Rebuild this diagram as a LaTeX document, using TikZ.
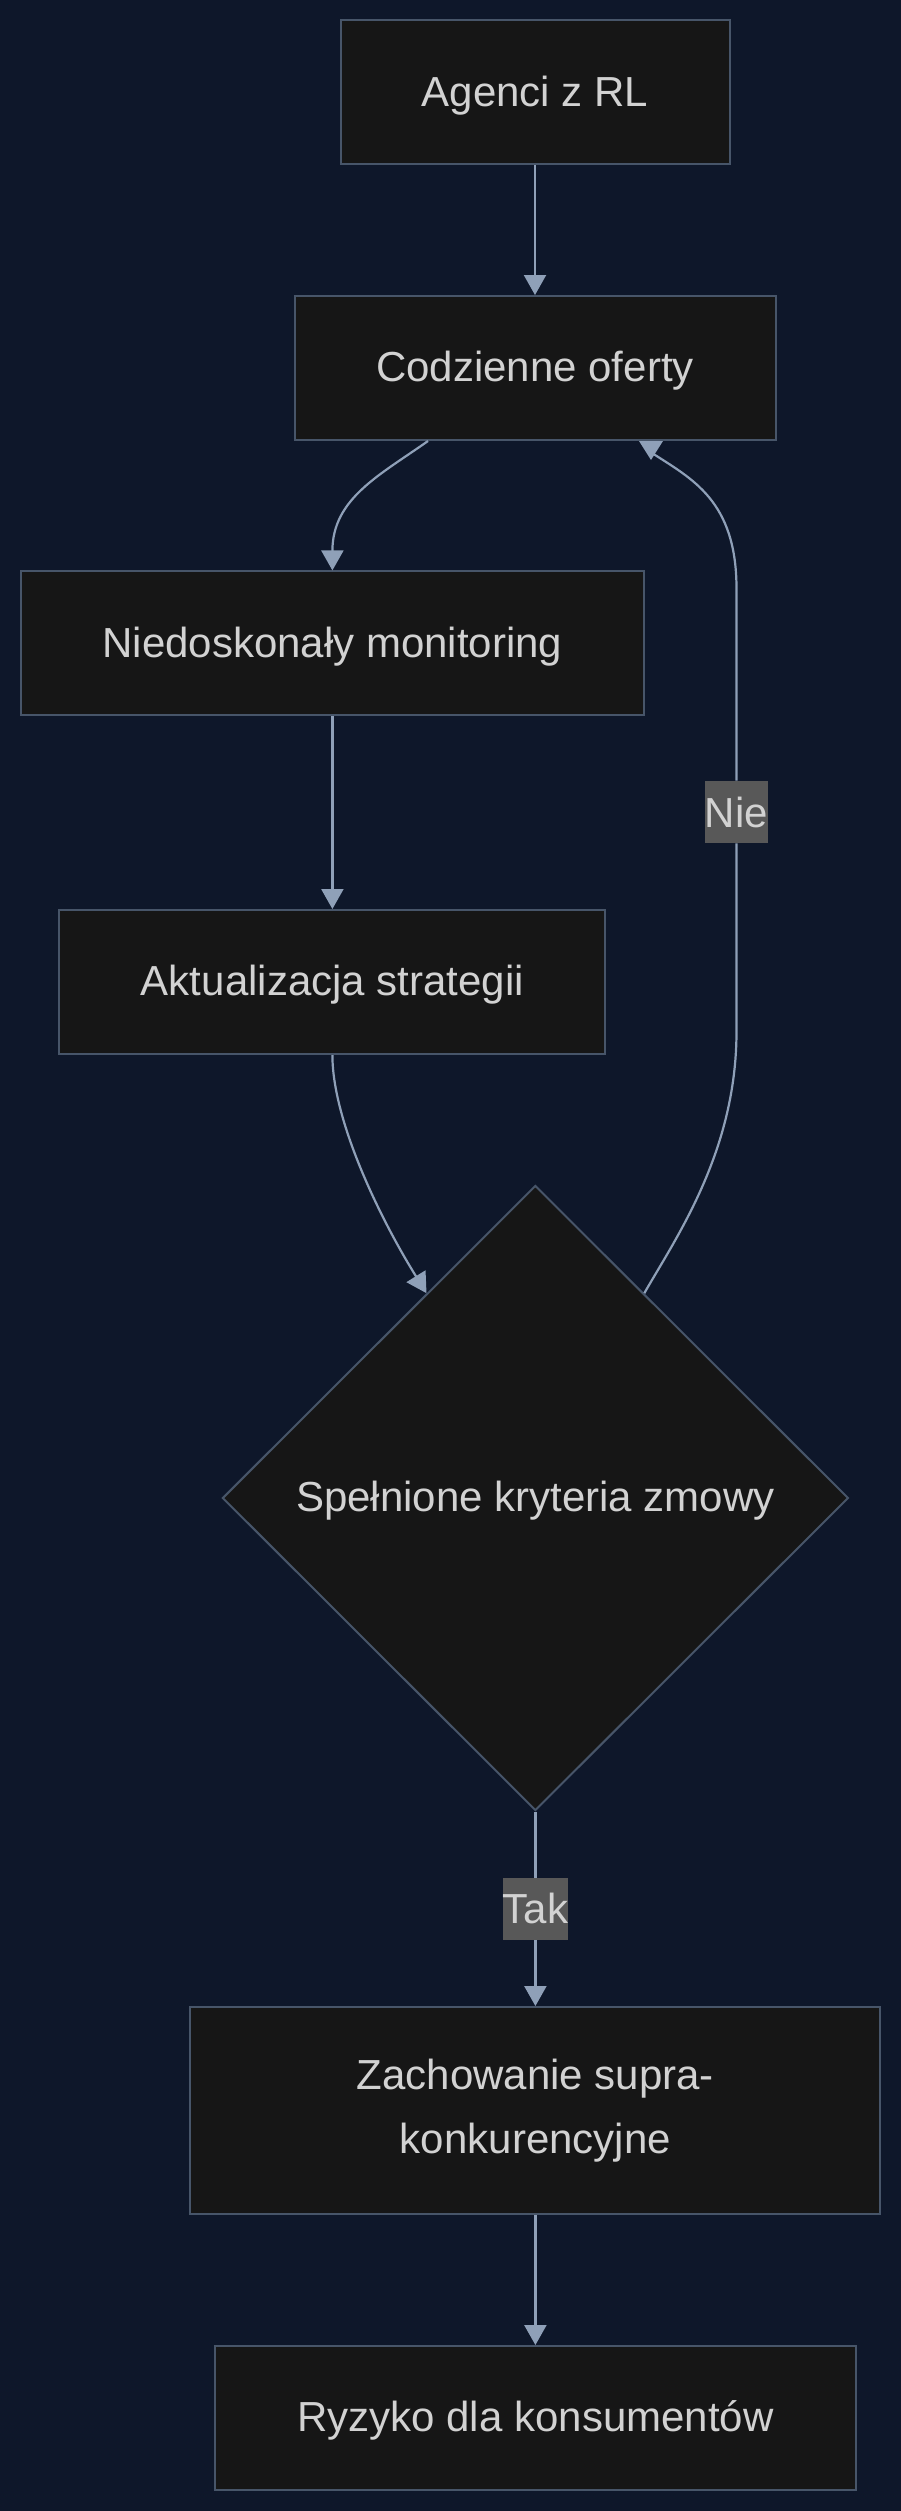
\documentclass[tikz,border=0pt]{standalone}
\usepackage{fontspec}
\setmainfont{Liberation Sans}
\usetikzlibrary{positioning,shapes.geometric,arrows.meta}

\definecolor{bgcol}{HTML}{0E172A}
\definecolor{boxfill}{HTML}{161616}
\definecolor{boxline}{HTML}{475569}
\definecolor{edgecol}{HTML}{8FA0B8}
\definecolor{txtcol}{HTML}{D2D2D2}
\definecolor{lblfill}{HTML}{585858}

\newcommand{\nodefont}{\fontsize{21pt}{31.75pt}\selectfont}

\begin{document}
\begin{tikzpicture}[on grid,
    procbox/.style={draw=boxline, fill=boxfill, line width=1pt, text=txtcol,
      font=\nodefont, minimum height=72pt, inner sep=0pt, align=center,
      text height=15.3pt, text depth=1.6pt},
    decision/.style={diamond, shape aspect=1, draw=boxline, fill=boxfill,
      line width=1pt, text=txtcol, font=\nodefont, minimum width=313pt,
      minimum height=312.5pt, inner sep=0pt, text height=15.3pt, text depth=1.6pt},
    lbl/.style={fill=lblfill, text=txtcol, font=\nodefont, inner sep=0pt,
      minimum height=31pt},
    link/.style={draw=edgecol, line width=1.1pt,
      -{Triangle[length=10pt,width=11pt]}}]
  \useasboundingbox (0,0) rectangle (450pt,-1255.5pt);
  \fill[bgcol] (-2pt,2pt) rectangle (452pt,-1257.5pt);

  \node[procbox, minimum width=194.5pt] (agenci) at (267.5pt,-46.2pt) {Agenci z RL};
  \node[procbox, minimum width=240.5pt] (codz) [below=137.8pt of agenci] {Codzienne oferty};
  \node[procbox, minimum width=311.5pt] (nied) [below left=137.7pt and 101.3pt of codz] {Niedoskonały monitoring};
  \node[procbox, minimum width=273pt] (akt) [below=169.3pt of nied] {Aktualizacja strategii};
  \node[decision] (dia) [below right=258pt and 101.5pt of akt] {Spełnione kryteria zmowy};
  \node[procbox, minimum width=345pt, minimum height=103.5pt, text height={}, text depth={}] (zach) [below=306.25pt of dia] {Zachowanie supra-\\konkurencyjne};
  \node[procbox, minimum width=320.5pt] (ryz) [below=153.75pt of zach] {Ryzyko dla konsumentów};
  \node[lbl] (nie) [below right=222pt and 100.75pt of codz] {Nie};

  \path[link] (agenci) -- (codz);
  \path[link] ([xshift=-53.5pt]codz.south) .. controls +(-24pt,-17pt) and +(0,36pt) .. (nied.north);
  \path[link] (nied) -- (akt);
  \path[link] (akt.south) .. controls +(0,-33pt) and +(-23pt,37pt) .. (dia.118);
  \path[link] (dia.south) -- node[lbl] {Tak} (zach.north);
  \path[link] (zach) -- (ryz);

  % Nie: back to the offers
  \draw[edgecol, line width=1.1pt]
    (dia.62) .. controls +(16pt,28pt) and +(0,-60pt) .. ([yshift=-94pt]nie.south) -- (nie.south)
    (nie.north) -- ([yshift=96pt]nie.north) .. controls +(0,44pt) and +(20pt,-13pt) .. ([xshift=58.5pt,yshift=-6pt]codz.south);
  \fill[edgecol] ([xshift=52pt]codz.south) -- ([xshift=64pt]codz.south)
    -- ([xshift=58pt,yshift=-9.5pt]codz.south) -- cycle;
\end{tikzpicture}
\end{document}
